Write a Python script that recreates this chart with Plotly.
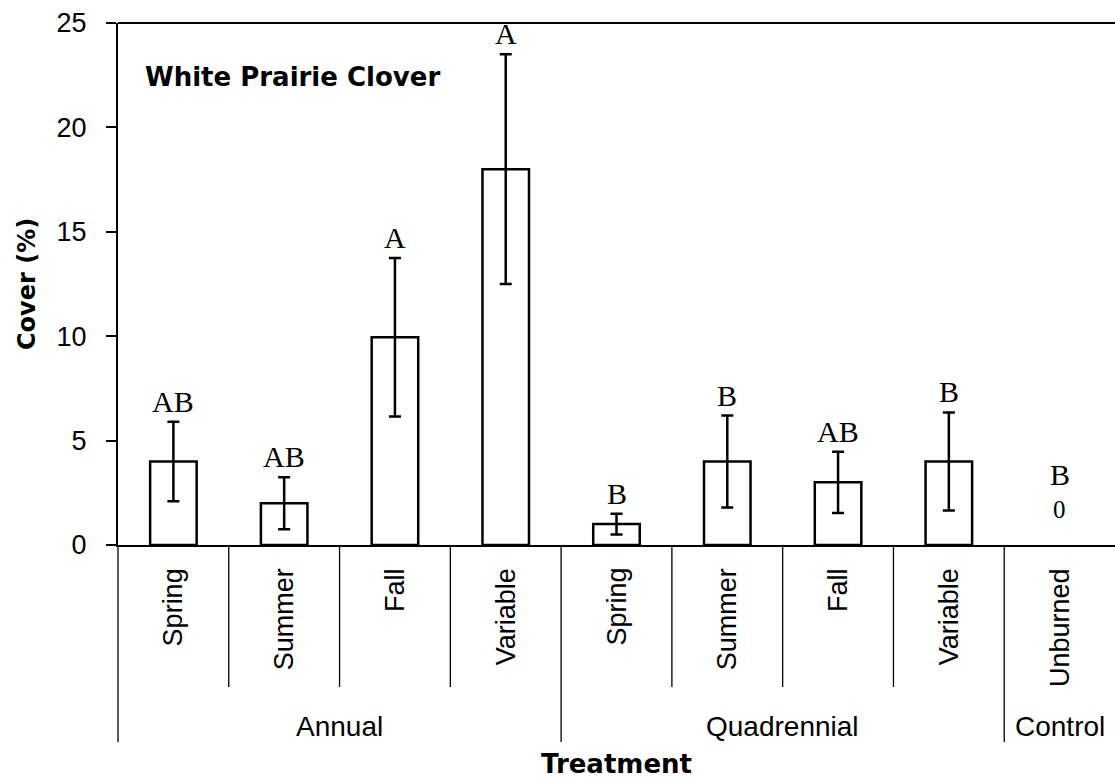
import plotly.graph_objects as go

# ---- data ----
groups = ["Annual", "Annual", "Annual", "Annual",
          "Quadrennial", "Quadrennial", "Quadrennial", "Quadrennial",
          "Control"]
seasons = ["Spring", "Summer", "Fall", "Variable",
           "Spring", "Summer", "Fall", "Variable", "Unburned"]
cover = [4.0, 2.0, 9.95, 18.0, 1.0, 4.0, 3.0, 4.0, 0.0]
se = [1.9, 1.25, 3.8, 5.5, 0.5, 2.2, 1.47, 2.35, 0.0]
letters = ["AB", "AB", "A", "A", "B", "B", "AB", "B", "B"]
y_ticks = [0, 5, 10, 15, 20, 25]
chart_title = "White Prairie Clover"

# ---- geometry ----
W, H = 1115, 782
M_L, M_R, M_T, M_B = 118, 0, 23, 237
plot_h = H - M_T - M_B
plot_w = W - M_L - M_R


def py(px):  # pixel y -> paper y
    return (H - M_B - px) / plot_h


def pxx(px):  # pixel x -> paper x
    return (px - M_L) / plot_w


SANS = "Liberation Sans, Arial, sans-serif"
BOLD = "DejaVu Sans, Arial, sans-serif"
SERIF = "Liberation Serif, Times New Roman, serif"

x = list(range(len(seasons)))
bar_y = [v if v > 0 else None for v in cover]

fig = go.Figure()
fig.add_trace(go.Bar(
    x=x, y=bar_y, width=0.42,
    marker=dict(color="white", line=dict(color="black", width=2.5)),
    error_y=dict(type="data", array=[e if e > 0 else None for e in se],
                 visible=True, color="black", thickness=2.5, width=6),
    showlegend=False,
))

ann = []
# significance letters
for i, (v, e, l) in enumerate(zip(cover, se, letters)):
    if v > 0:
        ann.append(dict(x=i, y=v + e, xref="x", yref="y", text=l, showarrow=False,
                        yanchor="bottom", yshift=2,
                        font=dict(family=SERIF, size=30, color="black")))
    else:
        ann.append(dict(x=i, y=0, xref="x", yref="y", text="0", showarrow=False,
                        yanchor="bottom", yshift=20,
                        font=dict(family=SERIF, size=25, color="black")))
        ann.append(dict(x=i, y=0, xref="x", yref="y", text=l, showarrow=False,
                        yanchor="bottom", yshift=52,
                        font=dict(family=SERIF, size=30, color="black")))

# rotated category labels
for i, s in enumerate(seasons):
    ann.append(dict(x=i, y=py(566), xref="x", yref="paper", text=s, showarrow=False,
                    textangle=-90, yanchor="top", xanchor="center",
                    font=dict(family=SANS, size=27, color="black")))

# group labels and separators
shapes = []
n = len(seasons)
spans = []
start = 0
for i in range(1, n + 1):
    if i == n or groups[i] != groups[start]:
        spans.append((groups[start], start, i - 1))
        start = i
for name, a, b in spans:
    ann.append(dict(x=(a + b) / 2, y=py(726), xref="x", yref="paper", text=name,
                    showarrow=False, yanchor="middle",
                    font=dict(family=SANS, size=28, color="black")))
    shapes.append(dict(type="line", xref="paper", yref="paper",
                       x0=(a) / n, x1=(a) / n, y0=0, y1=py(742),
                       line=dict(color="black", width=1.3)))
    for k in range(a + 1, b + 1):
        shapes.append(dict(type="line", xref="paper", yref="paper",
                           x0=k / n, x1=k / n, y0=0, y1=py(687),
                           line=dict(color="black", width=1.3)))

# top border
shapes.append(dict(type="line", xref="paper", yref="paper", x0=0, x1=1, y0=1, y1=1,
                   line=dict(color="black", width=2)))

# titles
ann.append(dict(x=pxx(143), y=py(77), xref="paper", yref="paper", text=chart_title,
                showarrow=False, xanchor="left", yanchor="middle",
                font=dict(family=BOLD, size=26, color="black", weight="bold")))
ann.append(dict(x=pxx(27), y=0.5, xref="paper", yref="paper", text="Cover (%)",
                showarrow=False, textangle=-90, xanchor="center", yanchor="middle",
                font=dict(family=BOLD, size=24, color="black", weight="bold")))
ann.append(dict(x=0.5, y=py(764), xref="paper", yref="paper", text="Treatment",
                showarrow=False, xanchor="center", yanchor="middle",
                font=dict(family=BOLD, size=26, color="black", weight="bold")))

fig.update_layout(
    width=W, height=H,
    margin=dict(l=M_L, r=M_R, t=M_T, b=M_B, pad=0),
    paper_bgcolor="white", plot_bgcolor="white",
    annotations=ann, shapes=shapes,
    xaxis=dict(range=[-0.5, n - 0.5], showticklabels=False, ticks="",
               showgrid=False, zeroline=False, showline=True,
               linecolor="black", linewidth=2, fixedrange=True),
    yaxis=dict(range=[0, 25], tickvals=y_ticks, ticks="outside", ticklen=10,
               tickwidth=1.5, tickcolor="black", showgrid=False, zeroline=False,
               showline=True, linecolor="black", linewidth=2,
               ticklabelstandoff=14,
               tickfont=dict(family=SANS, size=27, color="black")),
)

fig.write_html(
    "out.html",
    config={"displayModeBar": False},
    post_script="document.body.style.margin='0';document.body.style.overflow='hidden';",
)
